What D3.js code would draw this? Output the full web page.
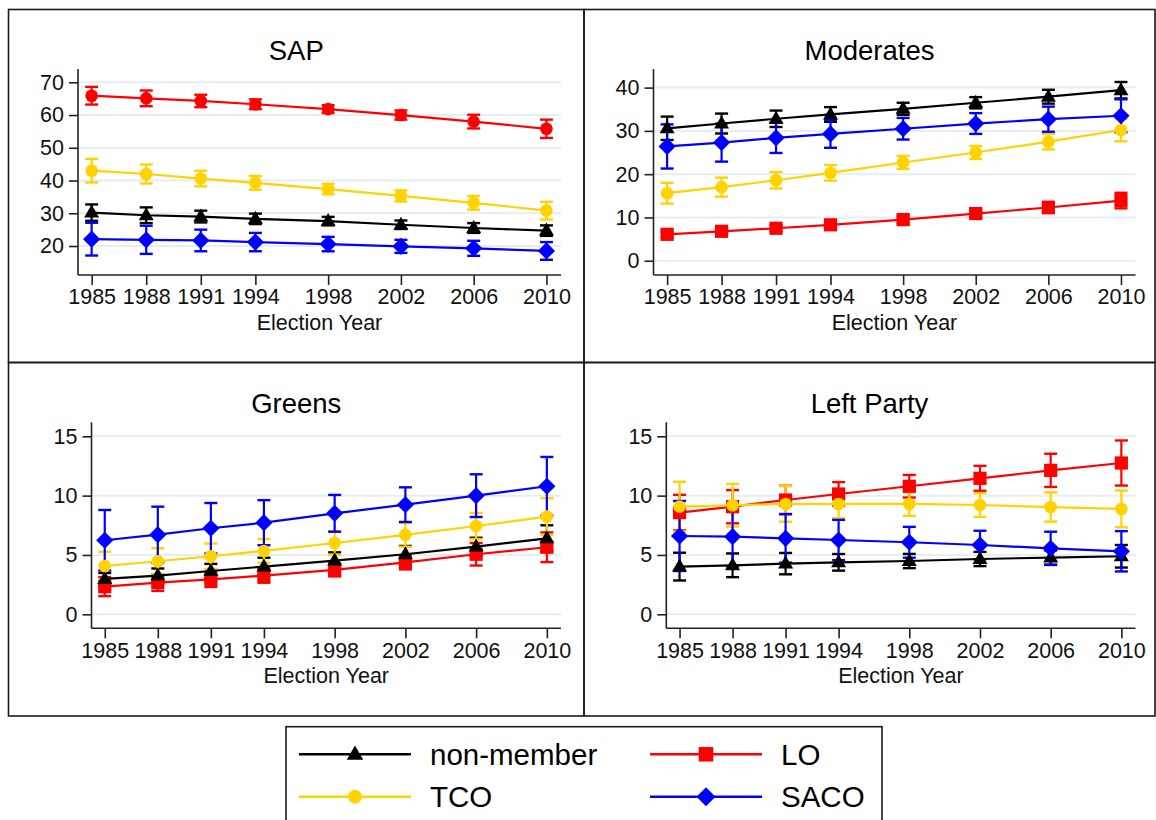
<!DOCTYPE html>
<html><head><meta charset="utf-8">
<script src="https://cdn.jsdelivr.net/npm/d3@7"></script>
<style>html,body{margin:0;padding:0;background:#fff;}svg{display:block;font-family:"Liberation Sans",Arial,sans-serif;}</style>
</head><body>
<svg id="chart" width="1156" height="820"></svg>
<script>
const years = [1985,1988,1991,1994,1998,2002,2006,2010];
const seriesNames = ["non-member","LO","TCO","SACO"];
const seriesColors = ["#000000","#ff0000","#ffd200","#0000ff"];
const seriesSymbols = ["triangle","square","circle","diamond"];
const sapSymbols = ["triangle","circle","circle","diamond"];
const panelTitles = ["SAP","Moderates","Greens","Left Party"];
const xAxisTitle = "Election Year";

const sapTicks = [20,30,40,50,60,70];
const modTicks = [0,10,20,30,40];
const grnTicks = [0,5,10,15];
const lftTicks = [0,5,10,15];

// SAP
const sap_nonmember = [30.2,29.4,29.0,28.3,27.6,26.5,25.5,24.7];
const sap_nonmember_ci = [2.5,2.4,1.8,1.6,1.3,1.3,1.5,1.6];
const sap_LO = [65.9,65.1,64.3,63.3,61.8,60.0,58.0,55.8];
const sap_LO_ci = [2.7,2.4,1.9,1.5,1.2,1.4,2.1,2.8];
const sap_TCO = [43.0,42.0,40.6,39.3,37.4,35.3,33.2,30.8];
const sap_TCO_ci = [3.6,2.9,2.4,2.1,1.6,1.7,2.1,2.7];
const sap_SACO = [22.1,21.9,21.7,21.2,20.6,19.9,19.3,18.5];
const sap_SACO_ci = [5.0,4.3,3.3,2.8,2.2,2.0,2.3,2.7];
// Moderates
const mod_nonmember = [30.6,31.7,32.8,33.8,35.1,36.5,37.9,39.4];
const mod_nonmember_ci = [2.7,2.3,1.9,1.7,1.4,1.3,1.6,1.9];
const mod_LO = [6.1,6.8,7.5,8.3,9.5,10.9,12.3,13.9];
const mod_LO_ci = [0.7,0.7,0.7,0.7,0.8,0.9,1.3,1.8];
const mod_TCO = [15.6,17.0,18.6,20.3,22.7,25.0,27.5,30.2];
const mod_TCO_ci = [2.4,2.2,1.9,1.8,1.5,1.5,1.8,2.6];
const mod_SACO = [26.4,27.3,28.4,29.3,30.5,31.7,32.7,33.5];
const mod_SACO_ci = [5.1,4.4,3.5,3.2,2.5,2.4,2.9,3.8];
// Greens
const grn_nonmember = [2.98,3.26,3.65,4.02,4.52,5.06,5.70,6.40];
const grn_nonmember_ci = [0.5,0.6,0.6,0.75,0.7,0.7,0.75,1.1];
const grn_LO = [2.33,2.67,2.95,3.26,3.74,4.38,5.06,5.65];
const grn_LO_ci = [0.8,0.7,0.65,0.6,0.55,0.6,0.95,1.25];
const grn_TCO = [4.07,4.47,4.89,5.34,6.01,6.69,7.44,8.23];
const grn_TCO_ci = [1.2,1.1,1.07,1.0,1.0,1.0,1.1,1.55];
const grn_SACO = [6.24,6.71,7.25,7.72,8.51,9.24,10.0,10.79];
const grn_SACO_ci = [2.55,2.36,2.13,1.9,1.55,1.46,1.8,2.47];
// Left Party
const lft_nonmember = [4.02,4.13,4.27,4.38,4.49,4.66,4.78,4.89];
const lft_nonmember_ci = [1.17,1.0,0.9,0.7,0.6,0.6,0.6,0.95];
const lft_LO = [8.57,9.07,9.63,10.14,10.79,11.46,12.13,12.75];
const lft_LO_ci = [1.5,1.4,1.2,1.0,0.95,1.05,1.4,1.9];
const lft_TCO = [9.07,9.19,9.30,9.30,9.30,9.21,9.04,8.88];
const lft_TCO_ci = [2.1,1.8,1.5,1.2,1.0,1.0,1.23,1.55];
const lft_SACO = [6.60,6.54,6.40,6.26,6.07,5.84,5.56,5.31];
const lft_SACO_ci = [2.95,2.5,2.05,1.7,1.3,1.2,1.4,1.7];

const panelData = [
  {means:[sap_nonmember,sap_LO,sap_TCO,sap_SACO], cis:[sap_nonmember_ci,sap_LO_ci,sap_TCO_ci,sap_SACO_ci], ticks:sapTicks, symbols:sapSymbols},
  {means:[mod_nonmember,mod_LO,mod_TCO,mod_SACO], cis:[mod_nonmember_ci,mod_LO_ci,mod_TCO_ci,mod_SACO_ci], ticks:modTicks, symbols:seriesSymbols},
  {means:[grn_nonmember,grn_LO,grn_TCO,grn_SACO], cis:[grn_nonmember_ci,grn_LO_ci,grn_TCO_ci,grn_SACO_ci], ticks:grnTicks, symbols:seriesSymbols},
  {means:[lft_nonmember,lft_LO,lft_TCO,lft_SACO], cis:[lft_nonmember_ci,lft_LO_ci,lft_TCO_ci,lft_SACO_ci], ticks:lftTicks, symbols:seriesSymbols}
];

// layout
const panelLayout = [
  {box:[8.5,9.5,584,362.5], x:[78,561], y:[275,69], ydom:[11.15,74.06]},
  {box:[584,9.5,1155,362.5], x:[653.5,1135.5], y:[275,69], ydom:[-3.3,44.3]},
  {box:[8.5,362.5,584,716], x:[91.5,561], y:[628.3,422.3], ydom:[-1.18,16.18]},
  {box:[584,362.5,1155,716], x:[666.3,1135.5], y:[628.3,422.3], ydom:[-1.18,16.18]}
];
const xDom = [1984.25, 2010.8];

const svg = d3.select("#chart");

function symbolPath(g, type, cx, cy, color, s) {
  s = s || 1;
  if (type === "circle") {
    g.append("circle").attr("cx",cx).attr("cy",cy).attr("r",6.3*s).attr("fill",color);
  } else if (type === "square") {
    const h = 6.6*s;
    g.append("rect").attr("x",cx-h).attr("y",cy-h).attr("width",2*h).attr("height",2*h).attr("fill",color);
  } else if (type === "triangle") {
    const w = 7.5*s, ht = 13*s;
    g.append("path").attr("d",`M${cx},${cy-ht*0.62}L${cx+w},${cy+ht*0.38}L${cx-w},${cy+ht*0.38}Z`).attr("fill",color);
  } else if (type === "diamond") {
    const h = 8.6*s;
    g.append("path").attr("d",`M${cx},${cy-h}L${cx+h},${cy}L${cx},${cy+h}L${cx-h},${cy}Z`).attr("fill",color);
  }
}

panelLayout.forEach((L, pi) => {
  const P = panelData[pi];
  const g = svg.append("g");
  g.append("rect").attr("x",L.box[0]).attr("y",L.box[1]).attr("width",L.box[2]-L.box[0]).attr("height",L.box[3]-L.box[1])
    .attr("fill","none").attr("stroke","#1a1a1a").attr("stroke-width",1.6);
  const x = d3.scaleLinear().domain(xDom).range(L.x);
  const y = d3.scaleLinear().domain(L.ydom).range(L.y);
  g.append("text").attr("x",(L.box[0]+L.box[2])/2).attr("y",L.box[1]+50).attr("text-anchor","middle")
    .attr("font-size",27.5).attr("fill","#000").text(panelTitles[pi]);
  g.selectAll(".grid").data(P.ticks).enter().append("line")
    .attr("x1",L.x[0]).attr("x2",L.x[1]).attr("y1",d=>y(d)).attr("y2",d=>y(d))
    .attr("stroke","#e6eef1").attr("stroke-width",2);
  const ya = g.append("g").attr("transform",`translate(${L.x[0]},0)`)
    .call(d3.axisLeft(y).tickValues(P.ticks).tickSize(9).tickPadding(5).tickFormat(d3.format("d")));
  const xa = g.append("g").attr("transform",`translate(0,${L.y[0]})`)
    .call(d3.axisBottom(x).tickValues(years).tickSize(10).tickPadding(4).tickFormat(d3.format("d")));
  [ya,xa].forEach(a=>{
    a.select(".domain").attr("stroke","#222").attr("stroke-width",1.6);
    a.selectAll(".tick line").attr("stroke","#222").attr("stroke-width",1.6);
    a.selectAll(".tick text").attr("font-size",21.5).attr("fill","#111").attr("font-family","Liberation Sans, Arial, sans-serif");
  });
  ya.select(".domain").attr("d",`M0,${L.y[0]}V${L.y[1]}`);
  xa.select(".domain").attr("d",`M${L.x[0]},0H${L.x[1]}`);
  g.append("text").attr("x",(L.x[0]+L.x[1])/2).attr("y",L.y[0]+55).attr("text-anchor","middle")
    .attr("font-size",21.5).attr("fill","#111").text(xAxisTitle);
  const order = [1,0,2,3];
  order.forEach(si=>{
    const m = P.means[si], c = P.cis[si], col = seriesColors[si];
    const eg = g.append("g");
    years.forEach((yr,i)=>{
      const cx = x(yr), y1 = y(m[i]-c[i]), y2 = y(m[i]+c[i]);
      eg.append("line").attr("x1",cx).attr("x2",cx).attr("y1",y1).attr("y2",y2).attr("stroke",col).attr("stroke-width",2.2);
      [y1,y2].forEach(yy=>eg.append("line").attr("x1",cx-6.5).attr("x2",cx+6.5).attr("y1",yy).attr("y2",yy).attr("stroke",col).attr("stroke-width",2.4));
    });
  });
  order.forEach(si=>{
    const m = P.means[si], col = seriesColors[si];
    const lg = g.append("g");
    lg.append("path").datum(years.map((yr,i)=>[yr,m[i]]))
      .attr("d",d3.line().x(d=>x(d[0])).y(d=>y(d[1]))).attr("fill","none").attr("stroke",col).attr("stroke-width",2.2);
    years.forEach((yr,i)=>symbolPath(lg, P.symbols[si], x(yr), y(m[i]), col));
  });
});

// legend
const lg = svg.append("g");
lg.append("rect").attr("x",286).attr("y",726.7).attr("width",596).attr("height",110).attr("fill","#fff").attr("stroke","#1a1a1a").attr("stroke-width",1.6);
const legPos = [[299,754.3],[650,754.3],[299,796.7],[650,796.7]];
seriesNames.forEach((nm,si)=>{
  const [lx,ly] = legPos[si];
  lg.append("line").attr("x1",lx).attr("x2",lx+112).attr("y1",ly).attr("y2",ly).attr("stroke",seriesColors[si]).attr("stroke-width",2.6);
  symbolPath(lg, seriesSymbols[si], lx+56, ly, seriesColors[si], 1.1);
  lg.append("text").attr("x",lx+131).attr("y",ly+10.5).attr("font-size",29.5).attr("fill","#000").text(nm);
});
</script>
</body></html>
